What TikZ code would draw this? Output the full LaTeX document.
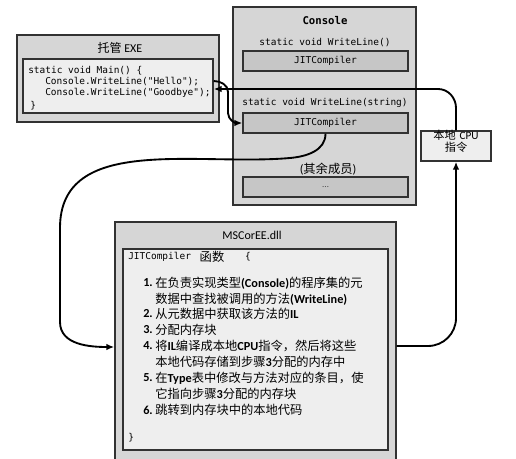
\documentclass[tikz,border=0pt]{standalone}
\usepackage{fontspec}
\setmainfont{Carlito}
\newfontfamily\cjk{Noto Sans CJK SC}
\newfontfamily\codefont{DejaVu Sans Mono}
\usetikzlibrary{arrows.meta, fit}

\definecolor{boxgray}{RGB}{214,214,214}
\definecolor{jitgray}{RGB}{198,198,198}
\definecolor{paper}{RGB}{238,238,238}
\definecolor{edge}{RGB}{50,50,50}

\newcommand{\zh}[1]{{\cjk\mdseries #1}}

\tikzset{
    outerbox/.style={draw=edge, line width=1.1pt, fill=boxgray, inner sep=0pt},
    jitbox/.style={draw=edge, line width=1pt, fill=jitgray, inner sep=0pt},
    paperbox/.style={draw=edge, line width=1.1pt, fill=paper, inner sep=0pt},
    code/.style={font=\codefont\fontsize{7.1}{8}\selectfont, inner sep=0pt},
    steptext/.style={font=\bfseries\fontsize{9.2}{11}\selectfont, anchor=west, inner sep=0pt},
    flow/.style={line width=1.4pt, -{Latex[length=6pt, width=5pt]}},
}

\begin{document}
\begin{tikzpicture}[x=0.75pt, y=0.75pt]

        \useasboundingbox (0,0) rectangle (516,-459);
        \clip (0,0) rectangle (516,-459);

        % Console type
        \node[outerbox, fit={(233,-7) (416,-205)}] (console) {};
        \node[code, font=\codefont\bfseries\fontsize{8}{9}\selectfont] (consoletitle) at (325,-21) {Console};
        \node[code] (wl) at (325,-43) {static void WriteLine()};
        \node[jitbox, fit={(243,-51) (408,-71)}] (jitA) {};
        \node[code] at (jitA) {JITCompiler};
        \node[code] (wls) at (325,-103) {static void WriteLine(string)};
        \node[jitbox, fit={(243,-113) (408,-133)}] (jitB) {};
        \node[code] at (jitB) {JITCompiler};
        \node[font=\fontsize{9.2}{11}\selectfont] (others) at (328,-169) {(\zh{其余成员})};
        \node[jitbox, fit={(243,-177) (408,-197)}] (rest) {};
        \node[font=\fontsize{7}{8}\selectfont, text=black!70] at (rest) {\dots};

        % managed exe
        \node[outerbox, fit={(17,-35) (219,-122)}] (exe) {};
        \node[font=\fontsize{9}{10}\selectfont] (exetitle) at (120,-48) {\zh{托管} EXE};
        \node[paperbox, fit={(23,-59) (213,-113)}] (code) {};
        \node[code, anchor=west] (l1) at (28,-71) {static void Main() \{};
        \node[code, anchor=west] (l2) at (45,-82) {Console.WriteLine("Hello");};
        \node[code, anchor=west] (l3) at (45,-93) {Console.WriteLine("Goodbye");};
        \node[code, anchor=west] (l4) at (30,-106) {\}};

        % native code
        \node[paperbox, fit={(421,-131) (491,-161)}, align=center,
              font=\fontsize{8.4}{10}\selectfont] (cpu) {\zh{本地} CPU\\[-1pt]\zh{指令}};

        % MSCorEE
        \node[outerbox, fit={(115,-222) (396,-470)}] (mscoree) {};
        \node[font=\fontsize{9}{10}\selectfont] (mstitle) at (252,-235) {MSCorEE.dll};
        \node[paperbox, fit={(123,-249) (388,-450)}] (steps) {};
        \node[code, anchor=west] (fn) at (128,-257) {JITCompiler};
        \node[font=\fontsize{9.2}{11}\selectfont, inner sep=0pt] (fnzh) at (212,-257) {\zh{函数}};
        \node[code] (open) at (248,-257) {\{};

        \node[steptext] (n1) at (143,-283) {1.};
        \node[steptext] (s1) at (155,-283) {\zh{在负责实现类型}(Console)\zh{的程序集的元}};
        \node[steptext] (s1b) at (155,-299) {\zh{数据中查找被调用的方法}(WriteLine)};
        \node[steptext] (n2) at (143,-314) {2.};
        \node[steptext] (s2) at (155,-314) {\zh{从元数据中获取该方法的}IL};
        \node[steptext] (n3) at (143,-330) {3.};
        \node[steptext] (s3) at (155,-330) {\zh{分配内存块}};
        \node[steptext] (n4) at (143,-346) {4.};
        \node[steptext] (s4) at (155,-346) {\zh{将}IL\zh{编译成本地}CPU\zh{指令，然后将这些}};
        \node[steptext] (s4b) at (155,-362) {\zh{本地代码存储到步骤}3\zh{分配的内存中}};
        \node[steptext] (n5) at (143,-378) {5.};
        \node[steptext] (s5) at (155,-378) {\zh{在}Type\zh{表中修改与方法对应的条目，使}};
        \node[steptext] (s5b) at (155,-394) {\zh{它指向步骤}3\zh{分配的内存块}};
        \node[steptext] (n6) at (143,-410) {6.};
        \node[steptext] (s6) at (155,-410) {\zh{跳转到内存块中的本地代码}};
        \node[code, anchor=west] (close) at (128,-438) {\}};

        % connectors
        \coordinate (hello) at (code.east |- 0,-81);
        \coordinate (goodbye) at (code.east |- 0,-89);
        \coordinate (callin) at (mscoree.west |- 0,-347);
        \coordinate (callout) at (mscoree.east |- 0,-346);

        \draw[flow] (hello) to[out=0, in=90] (228,-92) -- (228,-113) to[out=-90, in=180] (jitB.west);
        \draw[flow] (cpu.north) -- (456,-108) to[out=90, in=0] (438,-89) -- (goodbye);
        \draw[flow] (jitB.south) to[out=-90, in=5] (290,-158) to[out=185, in=90] (60,-228)
            -- (60,-322) to[out=-90, in=180] (callin);
        \draw[flow] (callout) -- (428,-346) to[out=0, in=-90] (456,-318) -- (cpu.south);

\end{tikzpicture}
\end{document}
